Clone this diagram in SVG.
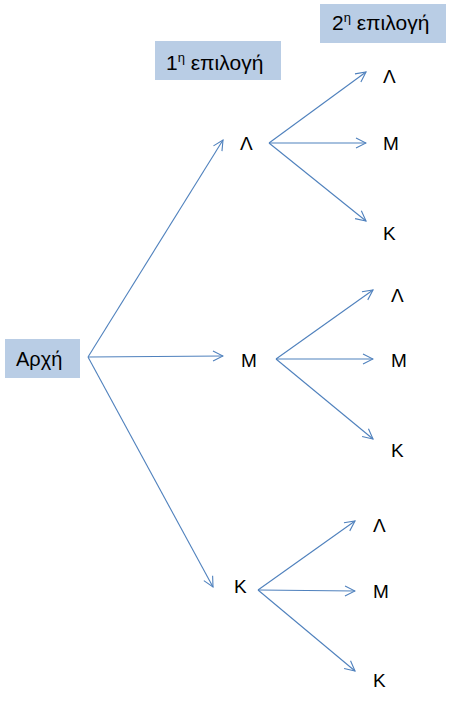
<svg xmlns="http://www.w3.org/2000/svg" width="450" height="701" viewBox="0 0 450 701">
<style>
.box{fill:#B9CDE5}
.lbl{font-family:"Liberation Sans",Arial,sans-serif;font-size:21px;fill:#000}
.lbl2{font-family:"Liberation Sans",Arial,sans-serif;font-size:20px;fill:#000}
.sup{font-size:13px}
.let{font-family:"Liberation Sans",Arial,sans-serif;font-size:19px;fill:#000}
.arr{stroke:#4F81BD;stroke-width:1.1;fill:none;marker-end:url(#ah)}
</style>
<defs>
<marker id="ah" markerUnits="userSpaceOnUse" markerWidth="12" markerHeight="12" viewBox="0 0 12 12" refX="11" refY="6" orient="auto">
<path d="M1,1 L11,6 L1,11" fill="none" stroke="#4F81BD" stroke-width="1.1"/>
</marker>
</defs>
<rect width="450" height="701" fill="#fff"/>
<g id="connectors">
<line class="arr" x1="88" y1="357" x2="223" y2="140"/>
<line class="arr" x1="88" y1="357" x2="223" y2="356"/>
<line class="arr" x1="88" y1="357" x2="213" y2="587"/>
<line class="arr" x1="269" y1="143" x2="366" y2="72"/>
<line class="arr" x1="269" y1="143" x2="366" y2="143"/>
<line class="arr" x1="269" y1="143" x2="366" y2="221"/>
<line class="arr" x1="276" y1="359" x2="373" y2="290"/>
<line class="arr" x1="276" y1="359" x2="373" y2="359"/>
<line class="arr" x1="276" y1="359" x2="373" y2="439"/>
<line class="arr" x1="258" y1="590" x2="355" y2="521"/>
<line class="arr" x1="258" y1="590" x2="355" y2="591"/>
<line class="arr" x1="258" y1="590" x2="355" y2="671"/>
</g>
<g id="header2">
<rect class="box" x="320" y="4" width="126" height="39"/>
<text class="lbl" x="332" y="30">2<tspan class="sup" dy="-8">η</tspan><tspan dy="8"> επιλογή</tspan></text>
</g>
<g id="header1">
<rect class="box" x="155" y="41" width="126" height="39"/>
<text class="lbl" x="166" y="70">1<tspan class="sup" dy="-8">η</tspan><tspan dy="8"> επιλογή</tspan></text>
</g>
<g id="start">
<rect class="box" x="5" y="339" width="75" height="39"/>
<text class="lbl2" x="16" y="366">Αρχή</text>
</g>
<g id="n1L"><text class="let" x="240" y="150">Λ</text></g>
<g id="n1M"><text class="let" x="241" y="367">Μ</text></g>
<g id="n1K"><text class="let" x="234" y="593">Κ</text></g>
<g id="n2LL"><text class="let" x="383" y="83">Λ</text></g>
<g id="n2LM"><text class="let" x="383" y="150">Μ</text></g>
<g id="n2LK"><text class="let" x="383" y="240">Κ</text></g>
<g id="n2ML"><text class="let" x="391" y="302">Λ</text></g>
<g id="n2MM"><text class="let" x="391" y="367">Μ</text></g>
<g id="n2MK"><text class="let" x="391" y="457">Κ</text></g>
<g id="n2KL"><text class="let" x="373" y="532">Λ</text></g>
<g id="n2KM"><text class="let" x="373" y="598">Μ</text></g>
<g id="n2KK"><text class="let" x="373" y="687">Κ</text></g>
</svg>
